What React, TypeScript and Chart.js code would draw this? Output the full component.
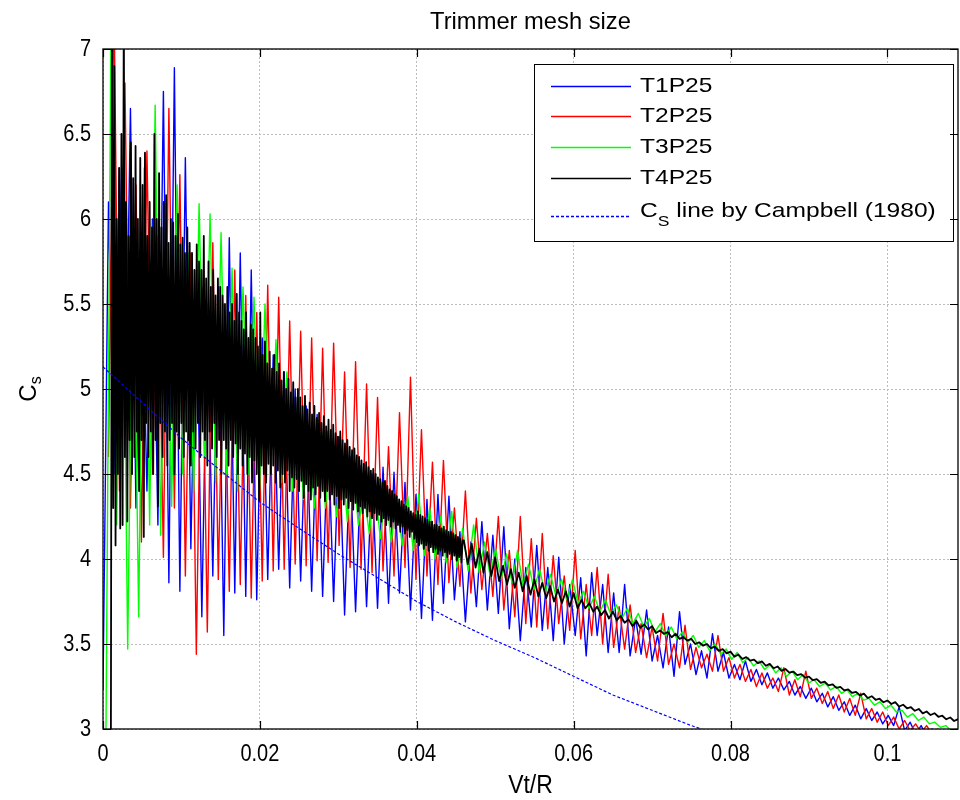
import React, { useEffect, useRef } from "react";
import { Chart, registerables } from "chart.js";

Chart.register(...registerables);

const FONT = '"Liberation Sans", Arial, Helvetica, sans-serif';

const TITLE = "Trimmer mesh size";
const X_LABEL = "Vt/R";
const Y_LABEL_MAIN = "C";
const Y_LABEL_SUB = "s";

const X_MIN = 0;
const X_MAX = 0.109;
const Y_MIN = 3;
const Y_MAX = 7;
const X_TICKS = [0, 0.02, 0.04, 0.06, 0.08, 0.1];
const Y_TICKS = [3, 3.5, 4, 4.5, 5, 5.5, 6, 6.5, 7];

const SERIES_LABELS = ["T1P25", "T2P25", "T3P25", "T4P25"];
const CAMPBELL_MAIN = "C";
const CAMPBELL_SUB = "S";
const CAMPBELL_REST = " line by Campbell (1980)";

// T1P25 (blue), sampled at x = T1_X0 + i * T1_DX
const T1_X0 = 0;
const T1_DX = 0.0007;
const T1_CS = [
  3.23, 6.1, 4.5, 6.3, 4.6, 6.65, 4.3, 5.9, 4.4, 6.0,
  4.2, 6.75, 3.86, 6.89, 3.81, 6.36, 4.06, 5.7, 3.66, 5.5,
  3.9, 5.6, 3.55, 5.89, 3.8, 5.8, 3.78, 5.7, 3.76, 5.3,
  3.88, 5.2, 3.94, 5.1, 3.83, 5.0, 3.87, 4.9, 3.81, 4.85,
  3.78, 4.75, 3.75, 4.72, 3.67, 4.6, 3.69, 4.55, 3.72, 4.5,
  3.71, 4.54, 3.74, 4.51, 3.8, 4.45, 3.7, 4.38, 3.65, 4.35,
  3.64, 4.38, 3.74, 4.37, 3.76, 4.16, 3.63, 4.1, 3.72, 4.22,
  3.7, 4.14, 3.68, 4.19, 3.59, 4.0, 3.52, 3.95, 3.6, 4.08,
  3.58, 3.95, 3.52, 4.01, 3.5, 3.85, 3.55, 3.89, 3.43, 3.92,
  3.55, 3.85, 3.45, 3.8, 3.45, 3.85, 3.43, 3.65, 3.44, 3.7,
  3.4, 3.55, 3.36, 3.6, 3.31, 3.69, 3.38, 3.5, 3.32, 3.46,
  3.3, 3.56, 3.34, 3.45, 3.3, 3.38, 3.29, 3.4, 3.28, 3.35,
  3.26, 3.33, 3.24, 3.3, 3.23, 3.28, 3.2, 3.25, 3.18, 3.24,
  3.16, 3.21, 3.13, 3.19, 3.11, 3.16, 3.08, 3.14, 3.06, 3.12,
  3.05, 3.1, 3.03, 3.08, 3.02, 3.13, 2.99, 3.04, 2.97, 3.02,
  2.96, 3.0, 2.95, 2.99, 2.94, 2.97,
];

// T2P25 (red)
const T2_X0 = 0.0007;
const T2_DX = 0.0007;
const T2_CS = [
  4.6, 7.3, 4.4, 6.8, 4.3, 6.2, 4.1, 6.4, 4.5, 5.9,
  4.01, 6.65, 4.3, 6.26, 3.9, 5.8, 3.44, 5.6, 3.57, 5.86,
  3.88, 5.5, 3.81, 5.7, 3.85, 5.55, 3.77, 5.45, 3.87, 5.61,
  3.93, 5.54, 3.94, 5.4, 3.97, 5.34, 3.96, 5.3, 3.99, 5.24,
  3.98, 5.27, 4.08, 5.1, 3.95, 5.16, 3.94, 5.03, 3.92, 4.95,
  3.93, 4.66, 3.9, 4.86, 3.95, 5.07, 3.88, 4.76, 3.9, 4.57,
  3.85, 4.58, 3.86, 4.3, 3.84, 4.4, 3.8, 4.24, 3.82, 4.15,
  3.78, 4.25, 3.7, 4.05, 3.66, 4.25, 3.62, 4.12, 3.6, 4.15,
  3.59, 4.02, 3.62, 3.9, 3.58, 4.05, 3.53, 3.85, 3.55, 3.95,
  3.5, 3.91, 3.48, 3.72, 3.47, 3.73, 3.45, 3.62, 3.42, 3.6,
  3.4, 3.68, 3.38, 3.5, 3.36, 3.61, 3.35, 3.48, 3.36, 3.44,
  3.34, 3.55, 3.34, 3.42, 3.3, 3.38, 3.28, 3.35, 3.25, 3.33,
  3.24, 3.3, 3.22, 3.36, 3.2, 3.29, 3.19, 3.34, 3.18, 3.24,
  3.15, 3.22, 3.12, 3.2, 3.1, 3.18, 3.08, 3.21, 3.06, 3.12,
  3.04, 3.1, 3.02, 3.07, 3.0, 3.05, 2.99, 3.03, 2.98, 3.02,
  2.97, 3.0, 2.96, 2.99, 2.95,
];

// T3P25 (green)
const T3_X0 = 0.00035;
const T3_DX = 0.0007;
const T3_CS = [
  2.8, 7.3, 4.2, 6.3, 3.47, 6.0, 3.66, 6.3, 4.2, 6.67,
  4.14, 6.0, 4.31, 6.2, 4.5, 5.8, 4.4, 6.09, 4.6, 6.03,
  4.45, 5.92, 4.5, 5.71, 4.4, 5.6, 4.5, 5.54, 4.4, 5.5,
  4.5, 5.29, 4.45, 5.1, 4.4, 4.95, 4.35, 4.7, 4.3, 4.75,
  4.3, 4.65, 4.25, 4.62, 4.22, 4.58, 4.2, 4.39, 4.15, 4.45,
  4.12, 4.4, 4.1, 4.35, 4.08, 4.37, 4.05, 4.38, 4.02, 4.3,
  4.0, 4.25, 3.98, 4.28, 3.95, 4.18, 3.93, 4.2, 3.92, 4.1,
  3.9, 4.06, 3.88, 4.03, 3.86, 4.05, 3.84, 3.97, 3.82, 3.94,
  3.8, 3.91, 3.78, 3.88, 3.76, 3.88, 3.74, 3.81, 3.71, 3.78,
  3.69, 3.76, 3.67, 3.73, 3.65, 3.71, 3.62, 3.68, 3.6, 3.65,
  3.57, 3.62, 3.55, 3.6, 3.53, 3.57, 3.51, 3.55, 3.48, 3.52,
  3.46, 3.5, 3.44, 3.47, 3.41, 3.45, 3.39, 3.42, 3.37, 3.4,
  3.35, 3.38, 3.33, 3.36, 3.31, 3.34, 3.29, 3.32, 3.27, 3.29,
  3.25, 3.27, 3.23, 3.25, 3.21, 3.23, 3.19, 3.21, 3.17, 3.18,
  3.14, 3.16, 3.12, 3.14, 3.1, 3.11, 3.07, 3.09, 3.05, 3.07,
  3.03, 3.04, 3.01, 3.02, 2.99, 3.0,
];

// T4P25 (black): dense start, then coarser
const T4A_X0 = 0.001;
const T4A_DX = 0.00015;
const T4A_CS = [
  2.8, 7.3, 4.3, 6.9, 4.08, 6.0, 4.5, 6.3, 4.18, 6.5,
  4.2, 7.3, 4.6, 6.1, 4.22, 5.9, 4.7, 6.45, 4.5, 6.24,
  4.6, 6.43, 4.75, 6.0, 4.4, 6.36, 4.7, 6.2, 4.13, 6.39,
  4.8, 5.9, 4.6, 6.1, 4.75, 5.95, 4.5, 6.5, 4.7, 6.0,
  4.31, 6.27, 4.8, 5.95, 4.6, 6.1, 4.75, 6.14, 4.55, 5.86,
  4.7, 6.0, 4.8, 5.98, 4.5, 5.9, 4.75, 6.03, 4.65, 5.85,
  4.8, 5.89, 4.6, 5.8, 4.75, 5.95, 4.7, 5.86, 4.55, 5.8,
  4.75, 5.7, 4.65, 5.85, 4.8, 5.75, 4.6, 5.7, 4.75, 5.9,
  4.7, 5.65, 4.55, 5.75, 4.75, 5.6, 4.65, 5.7, 4.8, 5.55,
  4.6, 5.65, 4.7, 5.6, 4.5, 5.55, 4.7, 5.5, 4.65, 5.6,
  4.55, 5.45, 4.7, 5.5, 4.6, 5.4, 4.68, 5.56, 4.5, 5.45,
  4.65, 5.4, 4.55, 5.35, 4.62, 5.45, 4.5, 5.3, 4.6, 5.38,
  4.45, 5.35, 4.58, 5.3, 4.5, 5.25, 4.34, 5.45, 4.55, 5.2,
  4.5, 5.28, 4.45, 5.15, 4.56, 5.22, 4.5, 5.12, 4.55, 5.2,
  4.45, 5.1, 4.52, 5.15, 4.42, 5.05, 4.5, 5.1, 4.45, 5.0,
  4.52, 5.06, 4.4, 4.98, 4.48, 5.04, 4.42, 4.95, 4.47, 5.0,
  4.4, 4.95, 4.46, 4.9, 4.36, 4.96, 4.44, 4.88, 4.4, 4.92,
  4.35, 4.85, 4.42, 4.9, 4.38, 4.83, 4.43, 4.86, 4.36, 4.8,
  4.4, 4.84, 4.34, 4.78, 4.4, 4.82, 4.35, 4.76, 4.38, 4.79,
  4.32, 4.74, 4.37, 4.72, 4.3, 4.75, 4.35, 4.7, 4.32, 4.68,
  4.36, 4.7, 4.3, 4.66, 4.34, 4.64, 4.29, 4.65, 4.33, 4.61,
  4.28, 4.6, 4.31, 4.58, 4.27, 4.56, 4.3, 4.57, 4.25, 4.54,
  4.28, 4.52, 4.24, 4.53, 4.27, 4.5, 4.23, 4.48, 4.26, 4.47,
  4.22, 4.45, 4.24, 4.46, 4.2, 4.43, 4.23, 4.41, 4.19, 4.4,
  4.22, 4.38, 4.18, 4.37, 4.2, 4.35, 4.16, 4.34, 4.19, 4.32,
  4.15, 4.31, 4.17, 4.3, 4.13, 4.28, 4.16, 4.27, 4.12, 4.26,
  4.1, 4.28, 4.08, 4.26, 4.09, 4.25, 4.06, 4.24, 4.08, 4.23,
  4.05, 4.22, 4.07, 4.22, 4.04, 4.2, 4.06, 4.2, 4.03, 4.19,
  4.05, 4.18, 4.02, 4.19, 4.04, 4.17, 4.01, 4.16, 4.03, 4.16,
  4.0, 4.15, 4.02, 4.14, 3.99, 4.13, 4.01, 4.12, 3.98, 4.11,
];
const T4B_X0 = 0.046;
const T4B_DX = 0.0005;
const T4B_CS = [
  4.11, 3.97, 4.09, 3.95, 4.06, 3.92, 4.04, 3.9, 4.01, 3.87,
  3.96, 3.85, 3.94, 3.83, 3.92, 3.81, 3.9, 3.79, 3.88, 3.78,
  3.86, 3.77, 3.84, 3.75, 3.82, 3.74, 3.81, 3.72, 3.8, 3.71,
  3.76, 3.71, 3.74, 3.69, 3.72, 3.67, 3.7, 3.65, 3.69, 3.64,
  3.665, 3.625, 3.645, 3.605, 3.635, 3.595, 3.615, 3.585, 3.605, 3.565,
  3.58, 3.56, 3.57, 3.54, 3.56, 3.53, 3.54, 3.52, 3.53, 3.5,
  3.51, 3.49, 3.5, 3.475, 3.485, 3.46, 3.47, 3.445, 3.455, 3.425,
  3.438, 3.412, 3.423, 3.402, 3.408, 3.387, 3.398, 3.372, 3.383, 3.357,
  3.368, 3.342, 3.353, 3.332, 3.338, 3.317, 3.323, 3.302, 3.308, 3.287,
  3.293, 3.272, 3.278, 3.257, 3.263, 3.242, 3.248, 3.227, 3.233, 3.212,
  3.218, 3.197, 3.208, 3.182, 3.193, 3.172, 3.178, 3.157, 3.168, 3.147,
  3.158, 3.132, 3.143, 3.122, 3.128, 3.107, 3.118, 3.092, 3.103, 3.082,
  3.093, 3.072, 3.078, 3.057, 3.068, 3.047, 3.058,
];

// Campbell (1980) reference line
const CAMPBELL_X0 = 0;
const CAMPBELL_DX = 0.005;
const CAMPBELL_CS = [
  5.13, 4.92, 4.71, 4.52, 4.335, 4.18, 4.03, 3.89, 3.75,
  3.63, 3.52, 3.42, 3.31, 3.2, 3.11, 3.02, 2.94,
];

const COLORS = ["#0000ff", "#ff0000", "#00ff00", "#000000"];

function toPoints(x0: number, dx: number, values: number[]) {
  return values.map((y, i) => ({ x: +(x0 + i * dx).toFixed(6), y }));
}

function fmt(v: number) {
  return String(Math.round(v * 1e6) / 1e6);
}

function drawText(
  ctx: CanvasRenderingContext2D,
  text: string,
  x: number,
  y: number,
  size: number,
  align: CanvasTextAlign,
  sx = 1,
  sy = 1
) {
  ctx.save();
  ctx.translate(x, y);
  ctx.scale(sx, sy);
  ctx.font = `${size}px ${FONT}`;
  ctx.textAlign = align;
  ctx.textBaseline = "middle";
  ctx.fillStyle = "#000";
  ctx.fillText(text, 0, 0);
  ctx.restore();
}

function textWidth(ctx: CanvasRenderingContext2D, text: string, size: number) {
  ctx.font = `${size}px ${FONT}`;
  return ctx.measureText(text).width;
}

const decorPlugin = {
  id: "matlabDecor",
  afterDraw(chart: any) {
    const { ctx, chartArea: a } = chart;
    const xs = chart.scales.x;
    const ys = chart.scales.y;
    ctx.save();
    ctx.setLineDash([]);

    // legend box
    const L = { left: 534, top: 64, right: 953, bottom: 241 };
    const LSX = 1.17;
    ctx.fillStyle = "#ffffff";
    ctx.fillRect(L.left, L.top, L.right - L.left, L.bottom - L.top);
    ctx.strokeStyle = "#000";
    ctx.lineWidth = 1;
    ctx.strokeRect(L.left + 0.5, L.top + 0.5, L.right - L.left, L.bottom - L.top);
    const rows = [86, 116, 147, 178, 216];
    chart.data.datasets.forEach((ds: any, i: number) => {
      const y = rows[i];
      ctx.strokeStyle = ds.borderColor;
      ctx.lineWidth = 1.4;
      ctx.setLineDash(ds.borderDash || []);
      ctx.beginPath();
      ctx.moveTo(551, y + 0.5);
      ctx.lineTo(631, y + 0.5);
      ctx.stroke();
      ctx.setLineDash([]);
      if (ds.isCampbell) {
        const wC = textWidth(ctx, CAMPBELL_MAIN, 21) * LSX;
        const wS = textWidth(ctx, CAMPBELL_SUB, 15) * LSX;
        drawText(ctx, CAMPBELL_MAIN, 640, y - 5, 21, "left", LSX, 1);
        drawText(ctx, CAMPBELL_SUB, 640 + wC, y + 6, 15, "left", LSX, 1);
        drawText(ctx, CAMPBELL_REST, 640 + wC + wS, y - 5, 21, "left", LSX, 1);
      } else {
        drawText(ctx, ds.label, 640, y, 21, "left", LSX, 1);
      }
    });

    // frame and inward ticks
    ctx.strokeStyle = "#000";
    ctx.lineWidth = 1.3;
    ctx.strokeRect(a.left, a.top, a.right - a.left, a.bottom - a.top);
    ctx.lineWidth = 1.2;
    const T = 8;
    ctx.beginPath();
    X_TICKS.forEach((v) => {
      const p = Math.round(xs.getPixelForValue(v)) + 0.5;
      ctx.moveTo(p, a.bottom);
      ctx.lineTo(p, a.bottom - T);
      ctx.moveTo(p, a.top);
      ctx.lineTo(p, a.top + T);
    });
    Y_TICKS.forEach((v) => {
      const p = Math.round(ys.getPixelForValue(v)) + 0.5;
      ctx.moveTo(a.left, p);
      ctx.lineTo(a.left + T, p);
      ctx.moveTo(a.right, p);
      ctx.lineTo(a.right - T, p);
    });
    ctx.stroke();

    // tick labels
    X_TICKS.forEach((v) => {
      drawText(ctx, fmt(v), xs.getPixelForValue(v), a.bottom + 25, 20, "center", 1, 1.2);
    });
    Y_TICKS.forEach((v) => {
      drawText(ctx, fmt(v), a.left - 12, ys.getPixelForValue(v), 20, "right", 1, 1.2);
    });

    // title and x label
    drawText(ctx, TITLE, (a.left + a.right) / 2, 23, 21, "center", 1.13, 1.1);
    drawText(ctx, X_LABEL, (a.left + a.right) / 2, 786, 23, "center", 1, 1.12);

    // y label with subscript
    ctx.save();
    ctx.translate(29, (a.top + a.bottom) / 2);
    ctx.rotate(-Math.PI / 2);
    const wC = textWidth(ctx, Y_LABEL_MAIN, 24);
    const wS = textWidth(ctx, Y_LABEL_SUB, 16);
    const start = -(wC + wS) / 2;
    drawText(ctx, Y_LABEL_MAIN, start, 0, 24, "left");
    drawText(ctx, Y_LABEL_SUB, start + wC, 8, 16, "left");
    ctx.restore();

    ctx.restore();
  },
};

export default function App() {
  const ref = useRef<HTMLCanvasElement | null>(null);

  useEffect(() => {
    document.body.style.margin = "0";
    const canvas = ref.current;
    if (!canvas) return;

    const lineBase = {
      pointRadius: 0,
      borderWidth: 1.4,
      tension: 0,
      fill: false,
      borderJoinStyle: "round" as const,
    };

    const chart = new Chart(canvas, {
      type: "line",
      data: {
        datasets: [
          { ...lineBase, label: SERIES_LABELS[0], borderColor: COLORS[0], data: toPoints(T1_X0, T1_DX, T1_CS), order: 4 },
          { ...lineBase, label: SERIES_LABELS[1], borderColor: COLORS[1], data: toPoints(T2_X0, T2_DX, T2_CS), order: 3 },
          { ...lineBase, label: SERIES_LABELS[2], borderColor: COLORS[2], data: toPoints(T3_X0, T3_DX, T3_CS), order: 2 },
          {
            ...lineBase,
            borderWidth: 1.8,
            label: SERIES_LABELS[3],
            borderColor: COLORS[3],
            data: [...toPoints(T4A_X0, T4A_DX, T4A_CS), ...toPoints(T4B_X0, T4B_DX, T4B_CS)],
            order: 1,
          },
          {
            ...lineBase,
            borderWidth: 1.2,
            label: CAMPBELL_MAIN + CAMPBELL_SUB + CAMPBELL_REST,
            borderColor: "#0000ff",
            borderDash: [3, 2],
            data: toPoints(CAMPBELL_X0, CAMPBELL_DX, CAMPBELL_CS),
            order: 0,
            isCampbell: true,
          } as any,
        ],
      },
      options: {
        responsive: false,
        animation: false,
        events: [],
        layout: { padding: { top: 49, right: 2, left: 0, bottom: 0 } },
        plugins: {
          legend: { display: false },
          tooltip: { enabled: false },
          title: { display: false },
        },
        scales: {
          x: {
            type: "linear",
            min: X_MIN,
            max: X_MAX,
            afterBuildTicks: (s: any) => {
              s.ticks = X_TICKS.map((value) => ({ value }));
            },
            afterFit: (s: any) => {
              s.height = 71;
            },
            ticks: { display: false },
            grid: { color: "#bdbdbd", lineWidth: 1, drawTicks: false },
            border: { display: false, dash: [2, 2] },
          },
          y: {
            type: "linear",
            min: Y_MIN,
            max: Y_MAX,
            afterBuildTicks: (s: any) => {
              s.ticks = Y_TICKS.map((value) => ({ value }));
            },
            afterFit: (s: any) => {
              s.width = 103;
            },
            ticks: { display: false },
            grid: { color: "#bdbdbd", lineWidth: 1, drawTicks: false },
            border: { display: false, dash: [2, 2] },
          },
        },
      },
      plugins: [decorPlugin],
    });

    return () => chart.destroy();
  }, []);

  return (
    <div style={{ position: "absolute", left: 0, top: 0, width: 960, height: 800, background: "#fff" }}>
      <canvas ref={ref} width={960} height={800} style={{ display: "block" }} />
    </div>
  );
}
